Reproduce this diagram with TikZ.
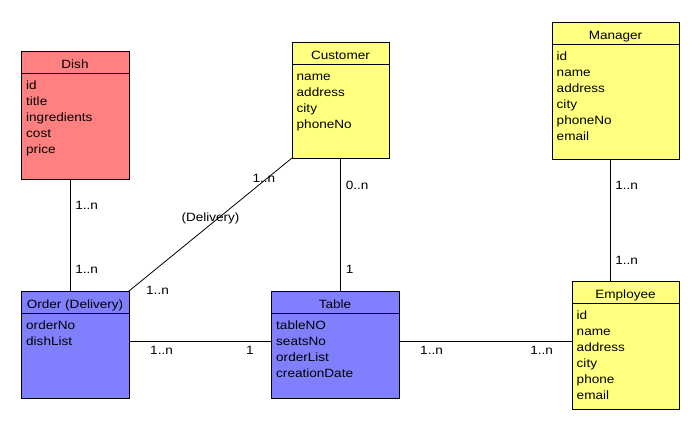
\documentclass[tikz,border=0pt]{standalone}
\usepackage{fontspec}
\setmainfont{Liberation Sans}[FakeStretch=1.13]
\newcommand\umlfont{\fontsize{12}{16}\selectfont}
\definecolor{dishred}{HTML}{FF8080}
\definecolor{peopleyellow}{HTML}{FFFF80}
\definecolor{orderblue}{HTML}{8080FF}
\tikzset{
  entity/.style={draw=black, line width=0.8pt, anchor=north west, inner sep=0pt, outer sep=0pt},
  title/.style={anchor=base, inner sep=0pt, font=\umlfont},
  attrs/.style={anchor=north west, align=left, inner sep=0pt, font=\umlfont},
  card/.style={inner sep=0pt, font=\umlfont},
  link/.style={draw=black, line width=0.8pt},
}
\begin{document}
\begin{tikzpicture}[x=1pt, y=-1pt]
    \useasboundingbox (0,0) rectangle (700,430);

    % classes
    \node[entity, fill=dishred, minimum width=108pt, minimum height=128pt] (dish) at (21,51) {};
    \node[entity, fill=peopleyellow, minimum width=97pt, minimum height=116pt] (customer) at (292,42) {};
    \node[entity, fill=peopleyellow, minimum width=127pt, minimum height=137pt] (manager) at (552,22) {};
    \node[entity, fill=orderblue, minimum width=108pt, minimum height=107pt] (order) at (21,291) {};
    \node[entity, fill=orderblue, minimum width=128pt, minimum height=107pt] (table) at (271,291) {};
    \node[entity, fill=peopleyellow, minimum width=107pt, minimum height=128pt] (employee) at (572,281) {};

    % headers
    \node[title] (dishtitle) at ([yshift=-17.5pt]dish.north) {Dish};
    \node[title] (customertitle) at ([yshift=-17.5pt]customer.north) {Customer};
    \node[title] (managertitle) at ([yshift=-17.5pt]manager.north) {Manager};
    \node[title] (ordertitle) at ([yshift=-17.5pt]order.north) {Order (Delivery)};
    \node[title] (tabletitle) at ([yshift=-17.5pt]table.north) {Table};
    \node[title] (employeetitle) at ([yshift=-17.5pt]employee.north) {Employee};

    \draw[link] ([yshift=-22.5pt]dish.north west) -- ([yshift=-22.5pt]dish.north east);
    \draw[link] ([yshift=-22.5pt]customer.north west) -- ([yshift=-22.5pt]customer.north east);
    \draw[link] ([yshift=-22.5pt]manager.north west) -- ([yshift=-22.5pt]manager.north east);
    \draw[link] ([yshift=-22.5pt]order.north west) -- ([yshift=-22.5pt]order.north east);
    \draw[link] ([yshift=-22.5pt]table.north west) -- ([yshift=-22.5pt]table.north east);
    \draw[link] ([yshift=-22.5pt]employee.north west) -- ([yshift=-22.5pt]employee.north east);

    % attributes
    \node[attrs] (dishattrs) at ([xshift=5pt, yshift=-26.8pt]dish.north west)
        {\strut id\\title\\ingredients\\cost\\price};
    \node[attrs] (customerattrs) at ([xshift=4.5pt, yshift=-26.8pt]customer.north west)
        {\strut name\\address\\city\\phoneNo};
    \node[attrs] (managerattrs) at ([xshift=4.5pt, yshift=-26.8pt]manager.north west)
        {\strut id\\name\\address\\city\\phoneNo\\email};
    \node[attrs] (orderattrs) at ([xshift=5pt, yshift=-26.8pt]order.north west)
        {\strut orderNo\\dishList};
    \node[attrs] (tableattrs) at ([xshift=5pt, yshift=-26.8pt]table.north west)
        {\strut tableNO\\seatsNo\\orderList\\creationDate};
    \node[attrs] (employeeattrs) at ([xshift=4.5pt, yshift=-26.8pt]employee.north west)
        {\strut id\\name\\address\\city\\phone\\email};

    % associations
    \draw[link] ([xshift=-5pt]dish.south) --
        node[card, pos=0.232, anchor=west, xshift=5pt] {1..n}
        node[card, pos=0.81, anchor=west, xshift=5pt] {1..n}
        ([xshift=-5pt]order.north);
    \draw[link] (customer.south) --
        node[card, pos=0.203, anchor=west, xshift=5pt] {0..n}
        node[card, pos=0.835, anchor=west, xshift=5pt] {1}
        (customer.south |- table.north);
    \draw[link] ([xshift=-5.5pt]manager.south) --
        node[card, pos=0.213, anchor=west, xshift=5pt] {1..n}
        node[card, pos=0.828, anchor=west, xshift=5pt] {1..n}
        ([xshift=-5.5pt]manager.south |- employee.north);
    \draw[link] ([yshift=3.5pt]order.east) --
        node[card, pos=0.229, yshift=-9pt] {1..n}
        node[card, pos=0.852, yshift=-9pt] {1}
        ([yshift=3.5pt]order.east -| table.west);
    \draw[link] ([yshift=3.5pt]table.east) --
        node[card, pos=0.188, yshift=-9pt] {1..n}
        node[card, pos=0.824, yshift=-9pt] {1..n}
        ([yshift=3.5pt]table.east -| employee.west);
    \draw[link] (customer.south west) --
        node[card, pos=0.172, yshift=3pt] {1..n}
        node[card, pos=0.5, yshift=6.5pt] {(Delivery)}
        node[card, pos=1, xshift=28.5pt, yshift=1pt] {1..n}
        (order.north east);
\end{tikzpicture}
\end{document}
